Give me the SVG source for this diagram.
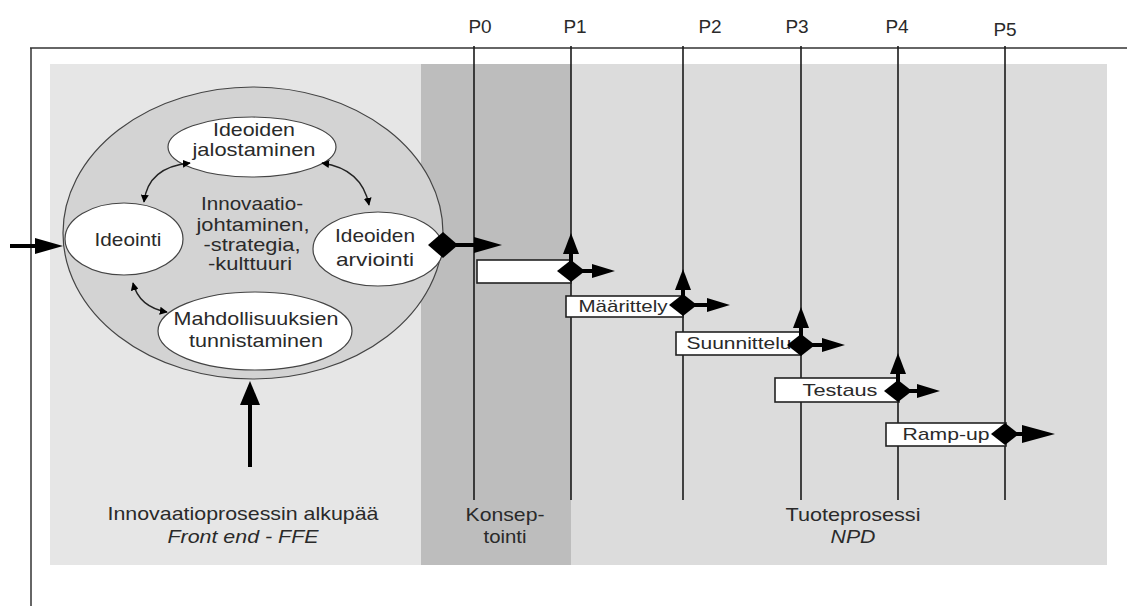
<svg xmlns="http://www.w3.org/2000/svg" width="1127" height="606" viewBox="0 0 1127 606">
<style>
  text { font-family: "Liberation Sans", Arial, sans-serif; fill: #2a2a2a; }
  .t19 { font-size: 19px; }
  .t17 { font-size: 17px; }
  .it { font-style: italic; }
  .frame { stroke: #333; stroke-width: 1.5; fill: none; }
  .gate { stroke: #1a1a1a; stroke-width: 1.6; fill: none; }
  .node { fill: #ffffff; stroke: #444; stroke-width: 1.2; }
  .box { fill: #ffffff; stroke: #222; stroke-width: 1.6; }
  .thick { stroke: #000; stroke-width: 4; fill: none; }
  .head { fill: #000; }
  .thin { stroke: #222; stroke-width: 1.4; fill: none; marker-start: url(#sm); marker-end: url(#sm); }
</style>
<defs>
  <marker id="sm" viewBox="0 0 10 10" refX="9" refY="5" markerWidth="8" markerHeight="8" markerUnits="userSpaceOnUse" orient="auto-start-reverse">
    <path d="M0,0 L10,5 L0,10 z" fill="#000"/>
  </marker>
</defs>
<rect width="1127" height="606" fill="#ffffff"/>

<!-- background panels -->
<g id="panels">
  <rect x="50" y="64" width="371" height="501" fill="#e6e6e6"/>
  <rect x="421" y="64" width="150" height="501" fill="#bdbdbd"/>
  <rect x="571" y="64" width="536" height="501" fill="#dcdcdc"/>
</g>

<!-- frame -->
<g id="frame">
  <line class="frame" x1="30" y1="48" x2="1127" y2="48"/>
  <line class="frame" x1="31" y1="48" x2="31" y2="606"/>
</g>

<!-- gates -->
<g id="gates">
  <line class="gate" x1="474" y1="46" x2="474" y2="500"/>
  <line class="gate" x1="571" y1="46" x2="571" y2="500"/>
  <line class="gate" x1="683" y1="46" x2="683" y2="500"/>
  <line class="gate" x1="801" y1="46" x2="801" y2="500"/>
  <line class="gate" x1="898" y1="46" x2="898" y2="500"/>
  <line class="gate" x1="1005" y1="46" x2="1005" y2="500"/>
  <text class="t19" x="480" y="33" text-anchor="middle">P0</text>
  <text class="t19" x="575" y="33" text-anchor="middle">P1</text>
  <text class="t19" x="710" y="33" text-anchor="middle">P2</text>
  <text class="t19" x="797" y="33" text-anchor="middle">P3</text>
  <text class="t19" x="897" y="33" text-anchor="middle">P4</text>
  <text class="t19" x="1005" y="36" text-anchor="middle">P5</text>
</g>

<!-- FFE cycle -->
<g id="ffe">
  <ellipse cx="253" cy="233" rx="190" ry="146" fill="#d3d3d3" stroke="#444" stroke-width="1.2"/>
  <text class="t19" x="252" y="210" text-anchor="middle" textLength="102" lengthAdjust="spacingAndGlyphs">Innovaatio-</text>
  <text class="t19" x="253" y="231" text-anchor="middle" textLength="113" lengthAdjust="spacingAndGlyphs">johtaminen,</text>
  <text class="t19" x="252" y="251" text-anchor="middle" textLength="97" lengthAdjust="spacingAndGlyphs">-strategia,</text>
  <text class="t19" x="250" y="270" text-anchor="middle" textLength="84" lengthAdjust="spacingAndGlyphs">-kulttuuri</text>
</g>
<g id="jalostaminen">
  <ellipse class="node" cx="252" cy="147" rx="84" ry="30"/>
  <text class="t19" x="254" y="136" text-anchor="middle" textLength="82" lengthAdjust="spacingAndGlyphs">Ideoiden</text>
  <text class="t19" x="254" y="156" text-anchor="middle" textLength="123" lengthAdjust="spacingAndGlyphs">jalostaminen</text>
</g>
<g id="ideointi">
  <ellipse class="node" cx="124" cy="239" rx="59" ry="36"/>
  <text class="t19" x="128" y="246" text-anchor="middle" textLength="67" lengthAdjust="spacingAndGlyphs">Ideointi</text>
</g>
<g id="arviointi">
  <ellipse class="node" cx="378" cy="249" rx="65" ry="37"/>
  <text class="t19" x="375" y="242" text-anchor="middle" textLength="80" lengthAdjust="spacingAndGlyphs">Ideoiden</text>
  <text class="t19" x="375" y="266" text-anchor="middle" textLength="78" lengthAdjust="spacingAndGlyphs">arviointi</text>
</g>
<g id="mahdollisuuksien">
  <ellipse class="node" cx="255" cy="331" rx="97" ry="39"/>
  <text class="t19" x="256" y="325" text-anchor="middle" textLength="165" lengthAdjust="spacingAndGlyphs">Mahdollisuuksien</text>
  <text class="t19" x="256" y="347" text-anchor="middle" textLength="134" lengthAdjust="spacingAndGlyphs">tunnistaminen</text>
</g>

<!-- phase boxes -->
<g id="konseptointi-box"><rect class="box" x="477" y="260" width="94" height="23"/></g>
<g id="maarittely">
  <rect class="box" x="566" y="296" width="117" height="21"/>
  <text class="t17" x="623" y="312" text-anchor="middle" textLength="89" lengthAdjust="spacingAndGlyphs">Määrittely</text>
</g>
<g id="suunnittelu">
  <rect class="box" x="676" y="332" width="125" height="23"/>
  <text class="t17" x="739" y="349" text-anchor="middle" textLength="105" lengthAdjust="spacingAndGlyphs">Suunnittelu</text>
</g>
<g id="testaus">
  <rect class="box" x="775" y="378" width="124" height="24"/>
  <text class="t17" x="840" y="396" text-anchor="middle" textLength="75" lengthAdjust="spacingAndGlyphs">Testaus</text>
</g>
<g id="rampup">
  <rect class="box" x="886" y="423" width="120" height="23"/>
  <text class="t17" x="946" y="440" text-anchor="middle" textLength="87" lengthAdjust="spacingAndGlyphs">Ramp-up</text>
</g>

<!-- connectors -->
<g id="connectors">
  <!-- cycle arrows -->
  <path class="thin" d="M 144 202 Q 148 167 190 163"/>
  <path class="thin" d="M 322 163 Q 362 169 369 205"/>
  <path class="thin" d="M 133 283 Q 139 307 167 312"/>

  <!-- input arrow -->
  <line class="thick" x1="10" y1="246" x2="40" y2="246" stroke-width="5"/>
  <polygon class="head" points="63,246 35,238 35,254"/>
  <!-- bottom up arrow -->
  <line class="thick" x1="250" y1="467" x2="250" y2="400" stroke-width="6"/>
  <polygon class="head" points="250,381 240,405 260,405"/>

  <!-- arviointi exit -->
  <polygon class="head" points="443,232 458,245 443,258 428,245"/>
  <line class="thick" x1="455" y1="245" x2="478" y2="245"/>
  <polygon class="head" points="502,245 474,237 474,253"/>

  <!-- P1 -->
  <line class="thick" x1="571" y1="271" x2="571" y2="250"/>
  <polygon class="head" points="571,233 563,254 579,254"/>
  <line class="thick" x1="571" y1="271" x2="596" y2="271"/>
  <polygon class="head" points="615,271 592,264 592,278"/>
  <polygon class="head" points="571,260 585,271 571,282 557,271"/>

  <!-- P2 -->
  <line class="thick" x1="683" y1="305" x2="683" y2="286"/>
  <polygon class="head" points="683,269 675,290 691,290"/>
  <line class="thick" x1="683" y1="305" x2="710" y2="305"/>
  <polygon class="head" points="730,305 707,298 707,312"/>
  <polygon class="head" points="683,294 697,305 683,316 669,305"/>

  <!-- P3 -->
  <line class="thick" x1="801" y1="345" x2="801" y2="324"/>
  <polygon class="head" points="801,307 793,328 809,328"/>
  <line class="thick" x1="801" y1="345" x2="826" y2="345"/>
  <polygon class="head" points="845,345 822,338 822,352"/>
  <polygon class="head" points="801,334 815,345 801,356 787,345"/>

  <!-- P4 -->
  <line class="thick" x1="898" y1="391" x2="898" y2="370"/>
  <polygon class="head" points="898,353 890,374 906,374"/>
  <line class="thick" x1="898" y1="391" x2="921" y2="391"/>
  <polygon class="head" points="940,391 917,384 917,398"/>
  <polygon class="head" points="898,380 912,391 898,402 884,391"/>

  <!-- P5 -->
  <polygon class="head" points="1005,423 1019,434 1005,445 991,434"/>
  <line class="thick" x1="1015" y1="434" x2="1026" y2="434"/>
  <polygon class="head" points="1055,434 1022,425 1022,443"/>
</g>

<!-- phase labels -->
<g id="labels">
  <text class="t19" x="243" y="520" text-anchor="middle" textLength="271" lengthAdjust="spacingAndGlyphs">Innovaatioprosessin alkupää</text>
  <text class="t19 it" x="243" y="543" text-anchor="middle" textLength="151" lengthAdjust="spacingAndGlyphs">Front end - FFE</text>
  <text class="t19" x="505" y="521" text-anchor="middle" textLength="79" lengthAdjust="spacingAndGlyphs">Konsep-</text>
  <text class="t19" x="505" y="543" text-anchor="middle" textLength="43" lengthAdjust="spacingAndGlyphs">tointi</text>
  <text class="t19" x="853" y="521" text-anchor="middle" textLength="135" lengthAdjust="spacingAndGlyphs">Tuoteprosessi</text>
  <text class="t19 it" x="853" y="543" text-anchor="middle" textLength="45" lengthAdjust="spacingAndGlyphs">NPD</text>
</g>
</svg>
